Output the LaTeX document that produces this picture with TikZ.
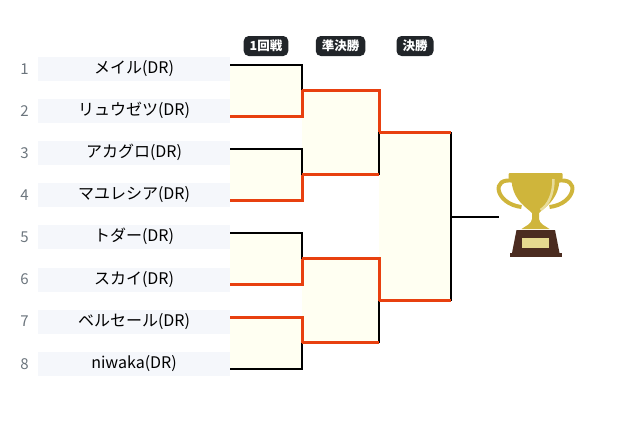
\documentclass[tikz,border=0pt]{standalone}
\usepackage{fontspec}
\setmainfont{Noto Sans CJK JP}
\usepackage{xcolor}
\usepackage{tikz}
\usetikzlibrary{calc, positioning}
\definecolor{winred}{HTML}{E8400F}
\definecolor{cellbg}{HTML}{FFFFF2}
\definecolor{namebg}{HTML}{F5F7FB}
\definecolor{seedgray}{HTML}{6C757D}
\definecolor{pilldark}{HTML}{212529}
\definecolor{cupgold}{HTML}{CFB53B}
\definecolor{cuplight}{HTML}{E8DC9A}
\definecolor{cupbrown}{HTML}{4B2C20}
\definecolor{plaque}{HTML}{E5D98F}
\tikzset{
	x = 1pt,
	y = 1pt,
	line width = 2pt,
	player/.style={
		fill=namebg,
		minimum width=192pt,
		minimum height=24pt,
		inner sep=0pt,
		text height=12pt,
		text depth=3pt,
		font=\fontsize{16}{18}\selectfont
	},
	seed/.style={
		text=seedgray,
		inner sep=0pt,
		font=\fontsize{15}{17}\selectfont
	},
	stage/.style={
		fill=pilldark,
		text=white,
		rounded corners=5pt,
		minimum height=20pt,
		inner xsep=6pt,
		inner ysep=0pt,
		font=\fontsize{12.5}{13}\bfseries\selectfont
	},
	lose/.style={
		draw=black,
		line width=2pt
	},
	win/.style={
		draw=winred,
		line width=3pt
	},
	cell/.style={
		fill=cellbg
	}
}

\begin{document}
\begin{tikzpicture}
\useasboundingbox (0,0) rectangle (637,-423);

% players
\node[player] (p1) at (134,-69) {メイル(DR)};
\node[player, below = 17.7pt of p1] (p2) {リュウゼツ(DR)};
\node[player, below = 17.7pt of p2] (p3) {アカグロ(DR)};
\node[player, below = 17.7pt of p3] (p4) {マユレシア(DR)};
\node[player, below = 17.7pt of p4] (p5) {トダー(DR)};
\node[player, below = 17.7pt of p5] (p6) {スカイ(DR)};
\node[player, below = 17.7pt of p6] (p7) {ベルセール(DR)};
\node[player, below = 17.7pt of p7] (p8) {niwaka(DR)};

\node[seed, left = 9pt of p1] (n1) {1};
\node[seed, left = 9pt of p2] (n2) {2};
\node[seed, left = 9pt of p3] (n3) {3};
\node[seed, left = 9pt of p4] (n4) {4};
\node[seed, left = 9pt of p5] (n5) {5};
\node[seed, left = 9pt of p6] (n6) {6};
\node[seed, left = 9pt of p7] (n7) {7};
\node[seed, left = 9pt of p8] (n8) {8};

% bracket points
\coordinate (e1) at ([yshift=4.5pt]p1.east);
\coordinate (e2) at ([yshift=-5pt]p2.east);
\coordinate (e3) at ([yshift=4.5pt]p3.east);
\coordinate (e4) at ([yshift=-5pt]p4.east);
\coordinate (e5) at ([yshift=4.5pt]p5.east);
\coordinate (e6) at ([yshift=-5pt]p6.east);
\coordinate (e7) at ([yshift=4.5pt]p7.east);
\coordinate (e8) at ([yshift=-5pt]p8.east);

\path ($(e1)!.5!(e2)$) ++(72,0) coordinate (m1);
\path ($(e3)!.5!(e4)$) ++(72,0) coordinate (m2);
\path ($(e5)!.5!(e6)$) ++(72,0) coordinate (m3);
\path ($(e7)!.5!(e8)$) ++(72,0) coordinate (m4);
\path ($(m1)!.5!(m2)$) ++(77,0) coordinate (t1);
\path ($(m3)!.5!(m4)$) ++(77,0) coordinate (t2);
\path ($(t1)!.5!(t2)$) ++(72,0) coordinate (c);
\path (c) ++(48,0) coordinate (cup);

% stages
\node[stage] (s1) at (266,-46) {1回戦};
\node[stage] (s2) at (340.5,-46) {準決勝};
\node[stage] (s3) at (415,-46) {決勝};

% cells
\fill[cell] (e1) rectangle (m1 |- e2);
\fill[cell] (e3) rectangle (m2 |- e4);
\fill[cell] (e5) rectangle (m3 |- e6);
\fill[cell] (e7) rectangle (m4 |- e8);
\fill[cell] (m1) rectangle (t1 |- m2);
\fill[cell] (m3) rectangle (t2 |- m4);
\fill[cell] (t1) rectangle (c |- t2);

% first round
\draw[lose] (e1) -| (m1);
\draw[win] (e2) -| (m1);
\draw[lose] (e3) -| (m2);
\draw[win] (e4) -| (m2);
\draw[lose] (e5) -| (m3);
\draw[win] (e6) -| (m3);
\draw[win] (e7) -| (m4);
\draw[lose] (e8) -| (m4);

% semifinals
\draw[lose] (m2 -| t1) -- (t1);
\draw[win] (m1) -| (t1);
\draw[win] (m2) -- (m2 -| t1);
\draw[lose] (m4 -| t2) -- (t2);
\draw[win] (m3) -| (t2);
\draw[win] (m4) -- (m4 -| t2);

% final
\draw[lose] (t1 -| c) -- (t2 -| c);
\draw[win] (t1) -- (t1 -| c);
\draw[win] (t2) -- (t2 -| c);
\draw[lose] (c) -- (cup);

% trophy
\begin{scope}[shift={(535.5,-214)}]
\draw[cupgold, line width=4pt] (-21,33) .. controls (-46,38) and (-40,10) .. (-14,7);
\draw[cupgold, line width=4pt] (21,33) .. controls (46,38) and (40,10) .. (14,7);
\fill[cupgold] (-24,36) .. controls (-24,14) and (-8,6) .. (-3.5,1) -- (-3.5,-5)
	.. controls (-4,-10) and (-10,-12) .. (-14,-15) -- (14,-15)
	.. controls (10,-12) and (4,-10) .. (3.5,-5) -- (3.5,1)
	.. controls (8,6) and (24,14) .. (24,36) -- cycle;
\fill[cupgold, rounded corners=1pt] (-27,41) rectangle (27,35);
\draw[cuplight, line width=2.5pt] (18,35) .. controls (18,20) and (13,9) .. (5,4);
\fill[cupbrown] (-19,-16) -- (19.5,-16) -- (24,-39) -- (-23.5,-39) -- cycle;
\fill[cupbrown] (-25.5,-39) rectangle (26,-43);
\fill[plaque] (-13.5,-23.5) rectangle (13.5,-33.5);
\end{scope}
\end{tikzpicture}
\end{document}
